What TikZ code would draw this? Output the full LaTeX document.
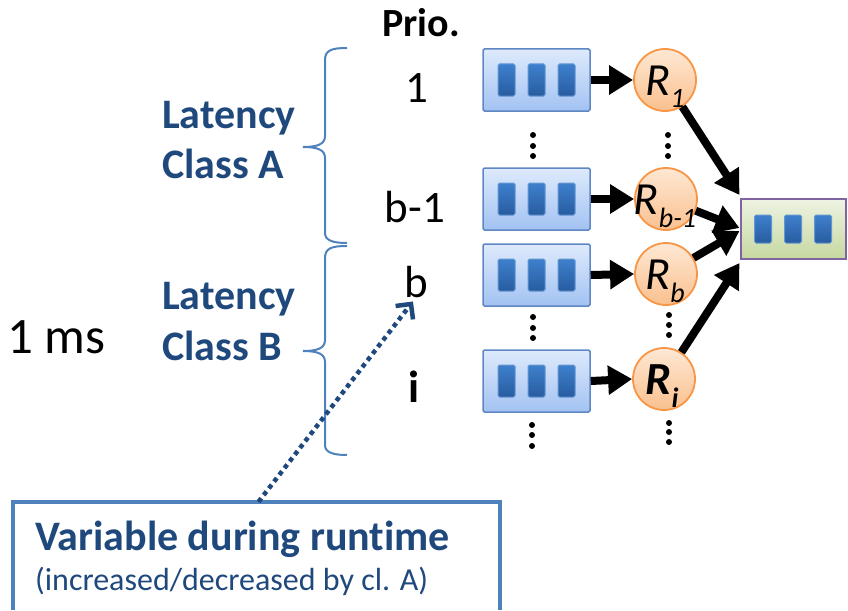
\documentclass[tikz,border=0pt]{standalone}
\usepackage{fontspec}
\setmainfont{Carlito}[Ligatures=NoCommon]
\usetikzlibrary{arrows.meta}
\definecolor{qtop}{RGB}{222,234,252}
\definecolor{qbot}{RGB}{162,194,242}
\definecolor{qborder}{RGB}{95,135,195}
\definecolor{slottop}{RGB}{62,128,205}
\definecolor{slotbot}{RGB}{40,92,160}
\definecolor{slotborder}{RGB}{100,150,210}
\definecolor{ctop}{RGB}{254,232,212}
\definecolor{cbot}{RGB}{250,192,142}
\definecolor{cborder}{RGB}{247,150,70}
\definecolor{gtop}{RGB}{238,243,226}
\definecolor{gbot}{RGB}{198,216,160}
\definecolor{gborder}{RGB}{128,100,162}
\definecolor{darkblue}{RGB}{31,73,125}
\definecolor{braceblue}{RGB}{79,129,189}
\newcommand\myfs[1]{\fontsize{#1}{#1}\selectfont}
\tikzset{
  queue/.style={draw=qborder, line width=1.5pt, top color=qtop, bottom color=qbot,
    minimum width=107pt, minimum height=62pt, inner sep=0pt, rounded corners=1.5pt},
  slot/.style={draw=slotborder, line width=1pt, top color=slottop, bottom color=slotbot,
    minimum width=17pt, minimum height=32pt, inner sep=0pt, rounded corners=1.5pt},
  outq/.style={draw=gborder, line width=2pt, top color=gtop, bottom color=gbot,
    minimum width=105pt, minimum height=60pt, inner sep=0pt},
  rcirc/.style={circle, draw=cborder, line width=1.8pt, top color=ctop, bottom color=cbot,
    minimum size=62pt, inner sep=0pt},
  bigarrow/.style={line width=8pt, -{Triangle[length=24pt,width=28pt]}},
  dotarrow/.style={darkblue, line width=4.5pt, dash pattern=on 4.5pt off 4pt,
    -{Straight Barb[length=11pt,width=22pt,line width=4.5pt]}},
  bracestyle/.style={braceblue, line width=2pt},
  blab/.style={anchor=base west, inner sep=0pt, text=darkblue, font=\myfs{42}\bfseries},
  plab/.style={anchor=base, inner sep=0pt, font=\myfs{45}},
  rlab/.style={anchor=base, inner sep=0pt, font=\myfs{46}\itshape},
  vdot/.style={fill=black},
}
\newcommand\sub[1]{\raisebox{-13pt}{\myfs{28}#1}}
\begin{document}
\begin{tikzpicture}[x=1pt,y=-1pt]
\useasboundingbox (0,0) rectangle (848,610);

% queues
\foreach \n/\y in {q1/80, qb1/199, qb/275, qi/381} {
  \node[queue] (\n) at (536.5,\y) {};
  \foreach \dx [count=\k] in {-30,0,30}
    \node[slot] (\n s\k) at ([xshift=\dx pt]\n.center) {};
}

% output queue
\node[outq] (out) at (793,229) {};
\foreach \dx [count=\k] in {-30,0,30}
  \node[slot, minimum height=28pt] (out s\k) at ([xshift=\dx pt]out.center) {};

% circles
\node[rcirc] (r1) at (665,80) {};
\node[rcirc] (rb1) at (666,199) {};
\node[rcirc] (rb) at (666,274) {};
\node[rcirc] (ri) at (664,379) {};
\node[rlab] (r1t) at (665,95) {R\sub{1}};
\node[rlab] (rb1t) at (665,214) {R\sub{b-1}};
\node[rlab] (rbt) at (665,289) {R\sub{b}};
\node[rlab, font=\myfs{46}\bfseries\itshape] (rit) at (662,394) {R\sub{i}};

% arrows queue -> circle
\draw[bigarrow] (q1.east) -- (r1.west);
\draw[bigarrow] (qb1.east) -- (rb1.west);
\draw[bigarrow] (qb.east) -- (rb.west);
\draw[bigarrow] (qi.east) -- (ri.west);

% arrows circle -> output
\draw[bigarrow] (r1) -- ([yshift=3pt]out.north west);
\draw[bigarrow] (rb1) -- ([yshift=1pt]out.west);
\draw[bigarrow] (rb) -- ([yshift=-2pt]out.west);
\draw[bigarrow] (ri) -- ([yshift=-3pt]out.south west);

% vertical dots
\foreach \x/\a/\b/\c in {533/135/146/156, 668/135/146/156, 533/317/328/338, 669/315/325/335, 532/425/435/446, 669/423/432/442} {
  \fill[vdot] (\x,\a) circle (3pt);
  \fill[vdot] (\x,\b) circle (3pt);
  \fill[vdot] (\x,\c) circle (3pt);
}

% priority labels
\node[plab, font=\myfs{40}\bfseries] (prio) at (421,37) {Prio.};
\node[plab] (p1) at (417,102) {1};
\node[plab] (pb1) at (415,222) {b-1};
\node[plab] (pb) at (416,297) {b};
\node[plab, font=\myfs{45}\bfseries] (pi) at (414,402) {i};

% braces
\draw[bracestyle] (347,48) .. controls (332,48) and (325,50) .. (325,60) -- (325,136)
  .. controls (325,144) and (318,147) .. (303,147)
  .. controls (318,147) and (325,150) .. (325,158) -- (325,233)
  .. controls (325,240) and (332,243) .. (347,243);
\draw[bracestyle] (347,246) .. controls (332,246) and (325,248) .. (325,258) -- (325,340)
  .. controls (325,348) and (318,351) .. (303,351)
  .. controls (318,351) and (325,354) .. (325,362) -- (325,445)
  .. controls (325,452) and (332,455) .. (347,455);

% class labels
\node[blab] (la1) at (162,128) {Latency};
\node[blab] (la2) at (162,178) {Class A};
\node[blab] (lb1) at (162,309) {Latency};
\node[blab] (lb2) at (162,360) {Class B};

\node[anchor=base west, inner sep=0pt, font=\myfs{51}] (ms) at (7,353) {1 ms};

% note box
\node[minimum width=487pt, minimum height=108pt, inner sep=0pt] (note) at (256.5,556) {};
\draw[braceblue, line width=4pt] (note.south west) -- (note.north west) -- (note.north east) -- (note.south east);
\node[anchor=base west, inner sep=0pt, text=darkblue, font=\myfs{42}\bfseries] (n1) at (35,550) {Variable during runtime};
\node[anchor=base west, inner sep=0pt, text=darkblue, font=\myfs{32}] (n2) at (35,590) {(increased/decreased by cl. A)};

% dotted arrow
\draw[dotarrow, shorten >=5pt] ([xshift=2pt]note.north) -- (pb.south);
\end{tikzpicture}
\end{document}
